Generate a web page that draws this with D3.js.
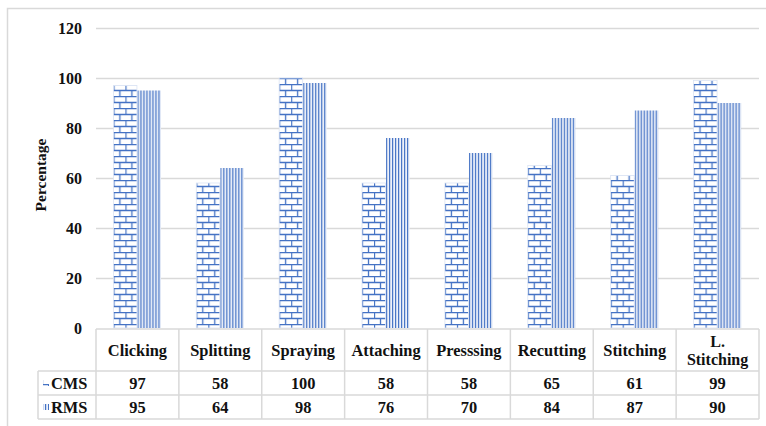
<!DOCTYPE html>
<html>
<head>
<meta charset="utf-8">
<script src="https://cdn.jsdelivr.net/npm/d3@7"></script>
<style>
  html, body { margin: 0; padding: 0; background: #fff; }
  svg { display: block; }
</style>
</head>
<body>
<svg id="chart" width="766" height="426"></svg>
<script>
// Process stages and the two measured series (percentage)
const categories = ["Clicking", "Splitting", "Spraying", "Attaching", "Presssing", "Recutting", "Stitching", "L. Stitching"];
const categoryLabels = [["Clicking"], ["Splitting"], ["Spraying"], ["Attaching"], ["Presssing"], ["Recutting"], ["Stitching"], ["L.", "Stitching"]];
const seriesNames = ["CMS", "RMS"];
const cmsValues = [97, 58, 100, 58, 58, 65, 61, 99];
const rmsValues = [95, 64, 98, 76, 70, 84, 87, 90];
const yTicks = [0, 20, 40, 60, 80, 100, 120];

const FONT = "Liberation Serif";
const svg = d3.select("#chart");
const blue = "#4472c4";
const gridColor = "#d9d9d9";
const textColor = "#111";

// Bold serif text helper
const label = (sel, size) => sel.append("text")
  .attr("font-family", FONT).attr("font-weight", "bold")
  .attr("font-size", size).attr("fill", textColor);

// Pattern fills: brick for CMS, vertical stripes for RMS
const defs = svg.append("defs");
const brick = defs.append("pattern")
  .attr("id", "brick").attr("patternUnits", "userSpaceOnUse")
  .attr("width", 12).attr("height", 12);
brick.append("rect").attr("width", 12).attr("height", 12).attr("fill", "#fff");
brick.append("path")
  .attr("d", "M0,0.5H12 M0,6.5H12 M0.5,0V6 M6.5,6V12")
  .attr("stroke", blue).attr("stroke-width", 1.3).attr("fill", "none");

const stripes = defs.append("pattern")
  .attr("id", "stripes").attr("patternUnits", "userSpaceOnUse")
  .attr("width", 3).attr("height", 4);
stripes.append("rect").attr("width", 3).attr("height", 4).attr("fill", "#eef2fa");
stripes.append("rect").attr("x", 0).attr("width", 1.2).attr("height", 4).attr("fill", blue);

const fills = { CMS: "url(#brick)", RMS: "url(#stripes)" };

// Outer chart border
svg.append("rect")
  .attr("x", 7.5).attr("y", 8.5).attr("width", 780).attr("height", 440)
  .attr("fill", "none").attr("stroke", gridColor).attr("stroke-width", 1.5);

const plot = { left: 96, right: 759, top: 28, bottom: 328 };

const x = d3.scaleBand().domain(categories)
  .range([plot.left, plot.right]).paddingInner(0.42).paddingOuter(0.21);
const xs = d3.scaleBand().domain(seriesNames).range([0, x.bandwidth()]);
const y = d3.scaleLinear().domain([0, 120]).range([plot.bottom, plot.top]);

// Horizontal gridlines
svg.append("g").selectAll("line").data(yTicks.filter(d => d > 0)).join("line")
  .attr("x1", plot.left).attr("x2", plot.right)
  .attr("y1", d => Math.round(y(d)) + 0.5).attr("y2", d => Math.round(y(d)) + 0.5)
  .attr("stroke", gridColor).attr("stroke-width", 1.5);

// Y axis labels
const yAxis = d3.axisLeft(y).tickValues(yTicks).tickSize(0).tickPadding(14);
const yg = svg.append("g").attr("transform", `translate(${plot.left},0)`).call(yAxis)
  .attr("font-family", FONT).attr("font-size", 16);
yg.select(".domain").remove();
yg.selectAll("text")
  .attr("font-family", FONT).attr("font-weight", "bold").attr("font-size", 16)
  .attr("fill", textColor).attr("dy", "0.34em");

label(svg, 15.5)
  .attr("transform", "translate(46,175) rotate(-90)")
  .attr("text-anchor", "middle")
  .text("Percentage");

// Bars
const rows = categories.map((c, i) => ({ cat: c, CMS: cmsValues[i], RMS: rmsValues[i] }));
const groups = svg.append("g").selectAll("g").data(rows).join("g")
  .attr("transform", d => `translate(${x(d.cat)},0)`);
groups.selectAll("rect")
  .data(d => seriesNames.map(s => ({ s, v: d[s] })))
  .join("rect")
  .attr("x", d => xs(d.s))
  .attr("y", d => y(d.v))
  .attr("width", xs.bandwidth() - 0.5)
  .attr("height", d => y(0) - y(d.v))
  .attr("fill", d => fills[d.s])
  .attr("stroke", d => d.s === "CMS" ? "#dbe4f4" : "none")
  .attr("stroke-width", 0.8);

// Data table beneath the plot
const table = svg.append("g");
const step = x.step();
const cellLeft = i => plot.left + i * step;
const headTop = 329, headBottom = 371, row1Bottom = 395, row2Bottom = 419;
const legendLeft = 38;
const tableLine = (x1, y1, x2, y2) => table.append("line")
  .attr("x1", x1).attr("y1", y1).attr("x2", x2).attr("y2", y2)
  .attr("stroke", gridColor).attr("stroke-width", 1.5);

tableLine(plot.left, headTop, plot.right, headTop);
[headBottom, row1Bottom, row2Bottom].forEach(yy => tableLine(legendLeft, yy, plot.right, yy));
tableLine(legendLeft, headBottom, legendLeft, row2Bottom);
for (let i = 0; i <= categories.length; i++) {
  tableLine(cellLeft(i), headTop, cellLeft(i), row2Bottom);
}

// Category labels (wrapped where needed)
categories.forEach((c, i) => {
  const cx = cellLeft(i) + step / 2;
  const lines = categoryLabels[i];
  const lh = 18;
  const startY = (headTop + headBottom) / 2 - (lines.length - 1) * lh / 2 + 5.5;
  lines.forEach((ln, j) => {
    label(table, lines.length > 1 ? 16 : 16.4).attr("x", cx).attr("y", startY + j * lh)
      .attr("text-anchor", "middle").text(ln);
  });
});

// Value rows
[[cmsValues, headBottom, row1Bottom], [rmsValues, row1Bottom, row2Bottom]].forEach(([vals, t, b]) => {
  vals.forEach((v, i) => {
    label(table, 16.4).attr("x", cellLeft(i) + step / 2).attr("y", (t + b) / 2 + 5.5)
      .attr("text-anchor", "middle").text(v);
  });
});

// Legend keys and series names in the first column
const keyRows = [["CMS", headBottom, row1Bottom], ["RMS", row1Bottom, row2Bottom]];
keyRows.forEach(([s, t, b]) => {
  const cy = (t + b) / 2;
  table.append("rect").attr("x", 43).attr("y", cy - 3).attr("width", 6).attr("height", 6)
    .attr("fill", fills[s]);
  label(table, 16.4).attr("x", 51).attr("y", cy + 5.5).text(s);
});
</script>
</body>
</html>
